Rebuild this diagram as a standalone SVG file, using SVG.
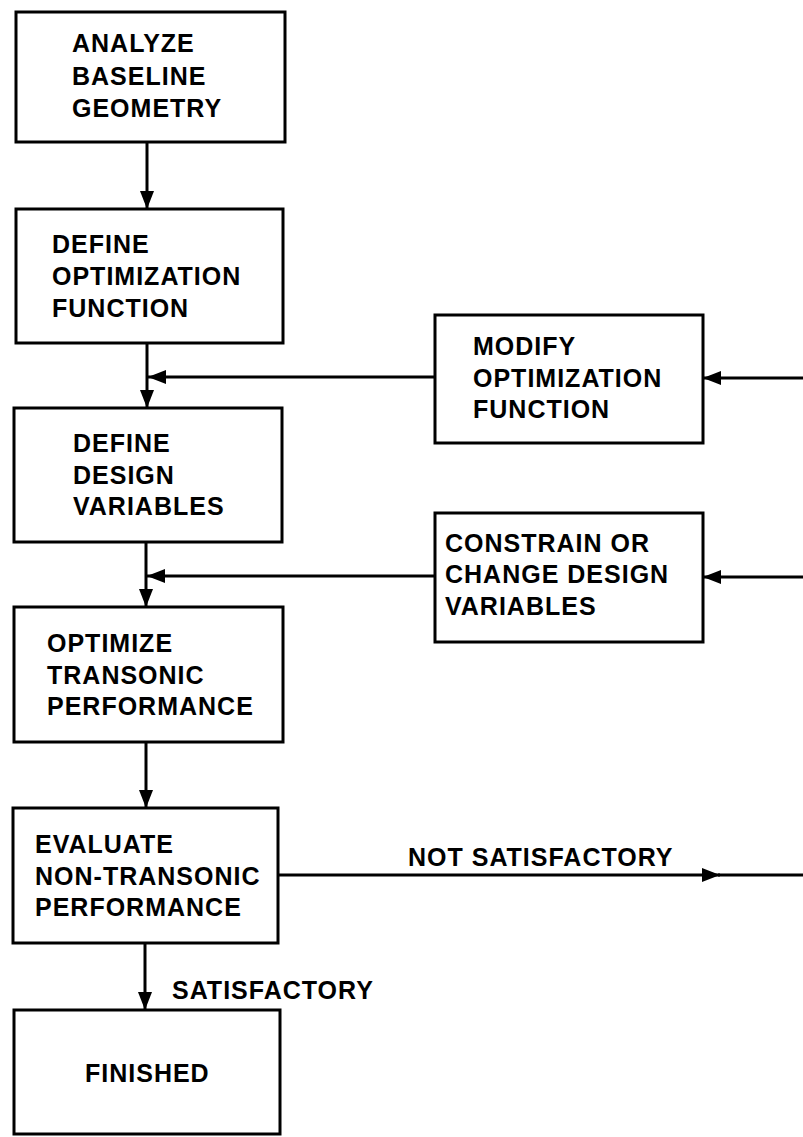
<svg xmlns="http://www.w3.org/2000/svg" width="803" height="1137" viewBox="0 0 803 1137">
<defs>
<style>
.box{fill:#fff;stroke:#000;stroke-width:3}
.t{font-family:"Liberation Sans",Arial,sans-serif;font-weight:bold;font-size:25px;letter-spacing:1px;fill:#000}
.c{fill:none;stroke:#000;stroke-width:3}
</style>
<marker id="ah" markerUnits="userSpaceOnUse" markerWidth="20" markerHeight="16" refX="18" refY="8" orient="auto">
<path d="M0,1 L18,8 L0,15 Z" fill="#000"/>
</marker>
</defs>
<rect width="803" height="1137" fill="#fff"/>
<g id="connectors">
<line class="c" x1="147" y1="142" x2="147" y2="209" marker-end="url(#ah)"/>
<line class="c" x1="147" y1="343" x2="147" y2="408" marker-end="url(#ah)"/>
<line class="c" x1="146" y1="542" x2="146" y2="607" marker-end="url(#ah)"/>
<line class="c" x1="146" y1="742" x2="146" y2="808" marker-end="url(#ah)"/>
<line class="c" x1="145" y1="943" x2="145" y2="1010" marker-end="url(#ah)"/>
<line class="c" x1="435" y1="377" x2="148" y2="377" marker-end="url(#ah)"/>
<line class="c" x1="803" y1="378" x2="703" y2="378" marker-end="url(#ah)"/>
<line class="c" x1="435" y1="576" x2="147" y2="576" marker-end="url(#ah)"/>
<line class="c" x1="803" y1="577" x2="703" y2="577" marker-end="url(#ah)"/>
<line class="c" x1="278" y1="875" x2="720" y2="875" marker-end="url(#ah)"/>
<line class="c" x1="718" y1="875" x2="803" y2="875"/>
<text class="t" x="408" y="866">NOT SATISFACTORY</text>
<text class="t" x="172" y="999">SATISFACTORY</text>
</g>
<g id="analyze">
<rect class="box" x="16" y="12" width="269" height="130"/>
<text class="t" x="72" y="52">ANALYZE</text>
<text class="t" x="72" y="85">BASELINE</text>
<text class="t" x="72" y="117">GEOMETRY</text>
</g>
<g id="define-opt">
<rect class="box" x="16" y="209" width="267" height="134"/>
<text class="t" x="52" y="253">DEFINE</text>
<text class="t" x="52" y="285">OPTIMIZATION</text>
<text class="t" x="52" y="317">FUNCTION</text>
</g>
<g id="define-design">
<rect class="box" x="14" y="408" width="268" height="134"/>
<text class="t" x="73" y="452">DEFINE</text>
<text class="t" x="73" y="484">DESIGN</text>
<text class="t" x="73" y="515">VARIABLES</text>
</g>
<g id="optimize">
<rect class="box" x="14" y="607" width="269" height="135"/>
<text class="t" x="47" y="652">OPTIMIZE</text>
<text class="t" x="47" y="684">TRANSONIC</text>
<text class="t" x="47" y="715">PERFORMANCE</text>
</g>
<g id="evaluate">
<rect class="box" x="13" y="808" width="265" height="135"/>
<text class="t" x="35" y="853">EVALUATE</text>
<text class="t" x="35" y="885">NON-TRANSONIC</text>
<text class="t" x="35" y="916">PERFORMANCE</text>
</g>
<g id="finished">
<rect class="box" x="14" y="1010" width="266" height="124"/>
<text class="t" x="85" y="1082">FINISHED</text>
</g>
<g id="modify">
<rect class="box" x="435" y="315" width="268" height="128"/>
<text class="t" x="473" y="355">MODIFY</text>
<text class="t" x="473" y="387">OPTIMIZATION</text>
<text class="t" x="473" y="418">FUNCTION</text>
</g>
<g id="constrain">
<rect class="box" x="435" y="513" width="268" height="129"/>
<text class="t" x="445" y="552">CONSTRAIN OR</text>
<text class="t" x="445" y="583">CHANGE DESIGN</text>
<text class="t" x="445" y="615">VARIABLES</text>
</g>
</svg>
